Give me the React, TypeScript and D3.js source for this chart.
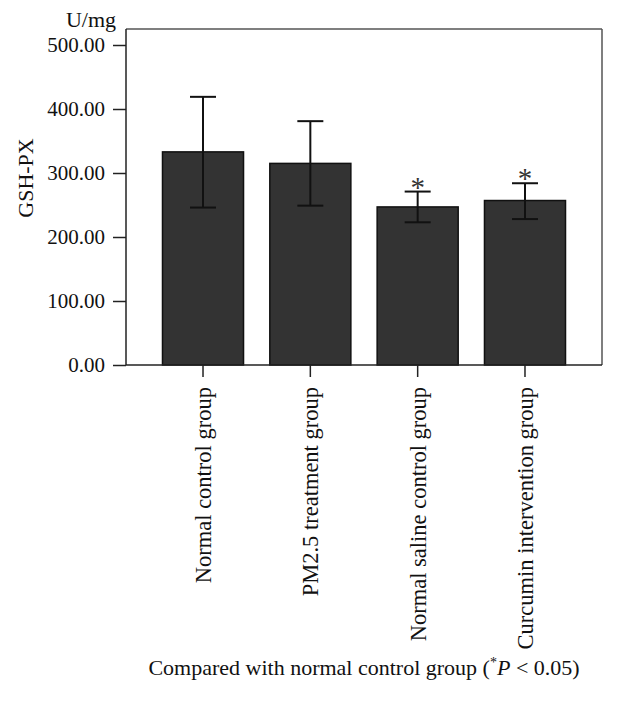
import { useRef, useEffect } from 'react';
import * as d3 from 'd3';

const categories = [
  'Normal control group',
  'PM2.5 treatment group',
  'Normal saline control group',
  'Curcumin intervention group',
];
const means = [333, 315, 247, 257];
const errLow = [246, 249, 223, 228];
const errHigh = [419, 381, 271, 284];
const significant = [false, false, true, true];
const yTicks = [0, 100, 200, 300, 400, 500];

const FONT = '"Liberation Serif", "Times New Roman", serif';

const App = () => {
  const chartRef = useRef<HTMLDivElement>(null);

  useEffect(() => {
    document.body.style.margin = '0';
    const node = chartRef.current;
    if (!node) return;
    while (node.firstChild) node.removeChild(node.firstChild);

    const WIDTH = 617;
    const HEIGHT = 703;
    const PLOT = { LEFT: 126, RIGHT: 602, TOP: 29, BOTTOM: 365 };

    const svg = d3.select(node)
      .append('svg')
      .attr('width', WIDTH)
      .attr('height', HEIGHT)
      .style('display', 'block')
      .style('background', '#fff')
      .style('font-family', FONT);

    const xScale = d3.scaleBand()
      .domain(categories)
      .range([PLOT.LEFT, PLOT.RIGHT])
      .paddingInner(0.245)
      .paddingOuter(0.34);

    const yScale = d3.scaleLinear()
      .domain([0, 500])
      .range([PLOT.BOTTOM, 45]);

    // bars
    svg.append('g')
      .selectAll('rect')
      .data(categories)
      .join('rect')
      .attr('x', d => xScale(d)!)
      .attr('y', (d, i) => yScale(means[i]))
      .attr('width', xScale.bandwidth())
      .attr('height', (d, i) => yScale(0) - yScale(means[i]))
      .attr('fill', '#333333')
      .attr('stroke', '#111')
      .attr('stroke-width', 1.5);

    // error bars
    const capW = 26;
    const err = svg.append('g')
      .attr('stroke', '#111')
      .attr('stroke-width', 2)
      .attr('fill', 'none');
    categories.forEach((c, i) => {
      const cx = xScale(c)! + xScale.bandwidth() / 2;
      err.append('line')
        .attr('x1', cx).attr('x2', cx)
        .attr('y1', yScale(errLow[i])).attr('y2', yScale(errHigh[i]));
      err.append('line')
        .attr('x1', cx - capW / 2).attr('x2', cx + capW / 2)
        .attr('y1', yScale(errLow[i])).attr('y2', yScale(errLow[i]));
      err.append('line')
        .attr('x1', cx - capW / 2).attr('x2', cx + capW / 2)
        .attr('y1', yScale(errHigh[i])).attr('y2', yScale(errHigh[i]));
      if (significant[i]) {
        svg.append('text')
          .attr('x', cx)
          .attr('y', yScale(errHigh[i]) + 5)
          .attr('text-anchor', 'middle')
          .attr('font-size', '29px')
          .attr('fill', '#333')
          .text('*');
      }
    });

    // frame
    const frame = svg.append('g')
      .attr('stroke', '#222')
      .attr('stroke-width', 1.5)
      .attr('fill', 'none');
    frame.append('line')
      .attr('x1', PLOT.LEFT).attr('x2', PLOT.RIGHT)
      .attr('y1', PLOT.TOP).attr('y2', PLOT.TOP)
      .attr('stroke', '#555');
    frame.append('line')
      .attr('x1', PLOT.RIGHT).attr('x2', PLOT.RIGHT)
      .attr('y1', PLOT.TOP).attr('y2', PLOT.BOTTOM)
      .attr('stroke', '#555');
    frame.append('line')
      .attr('x1', PLOT.LEFT).attr('x2', PLOT.LEFT)
      .attr('y1', PLOT.TOP).attr('y2', PLOT.BOTTOM);
    frame.append('line')
      .attr('x1', PLOT.LEFT).attr('x2', PLOT.RIGHT)
      .attr('y1', PLOT.BOTTOM).attr('y2', PLOT.BOTTOM);

    // y axis
    const yAxis = svg.append('g')
      .attr('transform', `translate(${PLOT.LEFT}, 0)`)
      .call(d3.axisLeft(yScale)
        .tickValues(yTicks)
        .tickFormat(d3.format('.2f'))
        .tickSize(13)
        .tickPadding(8));
    yAxis.select('.domain').remove();
    yAxis.selectAll('line').attr('stroke', '#222').attr('stroke-width', 1.5);
    yAxis.selectAll('text')
      .attr('font-size', '21px')
      .attr('font-family', FONT)
      .attr('fill', '#111');

    // x axis
    const xAxis = svg.append('g')
      .attr('transform', `translate(0, ${PLOT.BOTTOM})`)
      .call(d3.axisBottom(xScale).tickSize(12).tickSizeOuter(0));
    xAxis.select('.domain').remove();
    xAxis.selectAll('line').attr('stroke', '#222').attr('stroke-width', 1.5);
    xAxis.selectAll('text')
      .attr('transform', 'rotate(-90)')
      .attr('x', -22)
      .attr('y', 0)
      .attr('dy', '0.35em')
      .attr('text-anchor', 'end')
      .attr('font-size', '22.5px')
      .attr('font-family', FONT)
      .attr('fill', '#111');

    // axis titles
    svg.append('text')
      .attr('x', 116)
      .attr('y', 27)
      .attr('text-anchor', 'end')
      .attr('font-size', '22px')
      .attr('fill', '#111')
      .text('U/mg');

    svg.append('text')
      .attr('transform', 'rotate(-90)')
      .attr('x', -178)
      .attr('y', 33)
      .attr('text-anchor', 'middle')
      .attr('font-size', '22px')
      .attr('fill', '#111')
      .text('GSH-PX');

    // caption
    const caption = svg.append('text')
      .attr('x', 364)
      .attr('y', 675)
      .attr('text-anchor', 'middle')
      .attr('font-size', '22px')
      .attr('fill', '#111');
    caption.append('tspan').text('Compared with normal control group (');
    caption.append('tspan').attr('font-size', '14px').attr('dy', -8).text('*');
    caption.append('tspan').attr('dy', 8).attr('font-style', 'italic').text('P');
    caption.append('tspan').text(' < 0.05)');
  }, []);

  return <div ref={chartRef}></div>;
};

export default App;
